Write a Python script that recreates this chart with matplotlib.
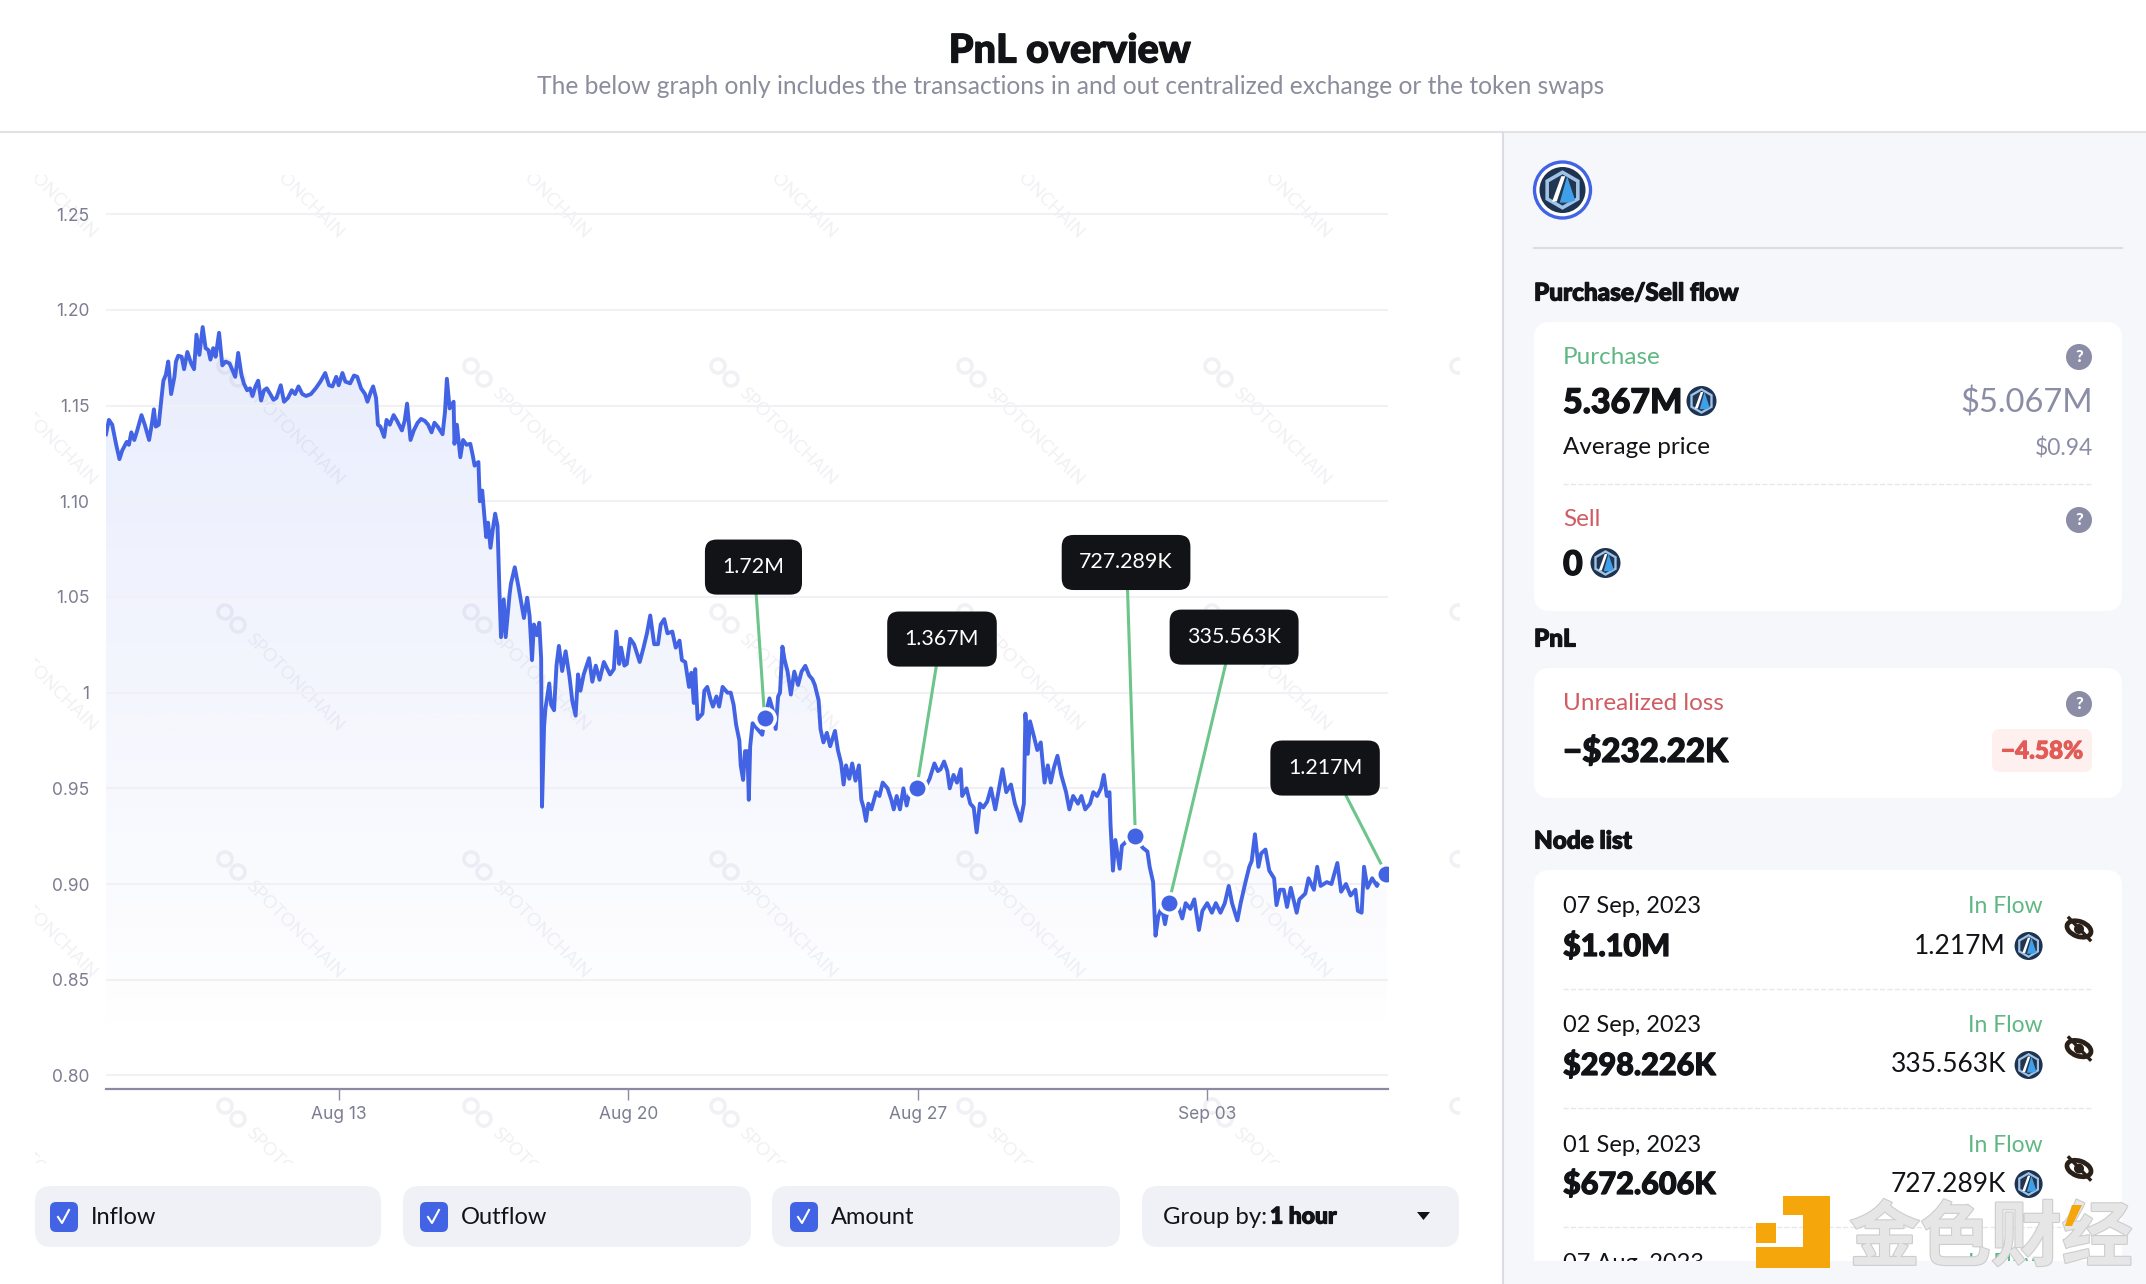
import matplotlib
matplotlib.use('Agg')
import matplotlib.pyplot as plt
import matplotlib.patheffects as pe
from matplotlib.patches import FancyBboxPatch, Circle, Polygon, Rectangle, RegularPolygon, Ellipse
import numpy as np

plt.rcParams['font.family'] = ['Lato', 'DejaVu Sans']

BLUE = '#4263e3'
GREEN = '#5fb783'
RED = '#cf5d62'
GREY = '#8b8ca6'
INK = '#121316'
HEAVY = [pe.withStroke(linewidth=0.9, foreground=INK)]  # lato black is thinner than the original font

def draw_card(x, y, w, h, r, color):
    card = FancyBboxPatch((x + r, y + r), w - 2 * r, h - 2 * r, boxstyle='round,pad=%f,rounding_size=%f' % (r, r),
                          facecolor=color, edgecolor='none', zorder=1)
    plt.gca().add_patch(card)
    return card

def draw_coin(x, y, r):
    ax = plt.gca()
    ax.add_patch(Circle((x, y), r, facecolor='#1d3350', edgecolor='none', zorder=3))
    ax.add_patch(RegularPolygon((x, y), 6, radius=0.86 * r, facecolor='#9fc3e6', edgecolor='none', zorder=3))
    ax.add_patch(RegularPolygon((x, y), 6, radius=0.68 * r, facecolor='#24364f', edgecolor='none', zorder=3))
    # two white slashes and the blue wedge
    ax.add_patch(Polygon([(x - 0.45 * r, y + 0.5 * r), (x - 0.05 * r, y - 0.6 * r), (x + 0.12 * r, y - 0.6 * r), (x - 0.25 * r, y + 0.5 * r)],
                         facecolor='white', edgecolor='none', zorder=4))
    ax.add_patch(Polygon([(x - 0.12 * r, y + 0.55 * r), (x + 0.2 * r, y - 0.6 * r), (x + 0.55 * r, y + 0.45 * r), (x + 0.3 * r, y + 0.55 * r)],
                         facecolor='#3f9fe8', edgecolor='none', zorder=4))

def draw_help(x, y):
    plt.gca().add_patch(Circle((x, y), 13, facecolor=GREY, edgecolor='none', zorder=3))
    plt.text(x, y, '?', color='white', fontsize=12, fontweight='black', ha='center', va='center', zorder=4)

def draw_eye(x, y):
    ax = plt.gca()
    ax.add_patch(Ellipse((x, y), 25, 15, angle=20, facecolor='none', edgecolor='#2a2018', linewidth=3.4, zorder=3))
    ax.add_patch(Circle((x, y), 5, facecolor='#2a2018', edgecolor='none', zorder=3))
    plt.plot([x - 10, x + 11], [y - 11, y + 11], color='#2a2018', linewidth=2.4, zorder=4)

def draw_check(x, y, label):
    draw_card(x - 12, y - 15, 22 + 6, 30, 6, BLUE)
    plt.plot([x - 4, x, x + 7], [y, y + 6, y - 7], color='white', linewidth=1.5, zorder=4)
    plt.text(x + 29, y + 1, label, color=INK, fontsize=17, ha='left', va='center', zorder=4)

# price, typed in by hand. hours after 07 Aug 09:00, then the price

price_data = [(0, 1.135), (1.7, 1.1425), (3.6, 1.140), (5.8, 1.130), (7.8, 1.122), (9.4, 1.1265), (12, 1.131), (13.3, 1.1295),
              (14.7, 1.136), (16.4, 1.132), (17.8, 1.136), (20.6, 1.145), (22.5, 1.140), (25, 1.132), (26.7, 1.141), (27.8, 1.148),
              (28.9, 1.139), (30.6, 1.140), (32.2, 1.154), (33.3, 1.163), (34.7, 1.166), (36.1, 1.173), (37.8, 1.156), (39.7, 1.165),
              (40.6, 1.173), (41.9, 1.176), (43.9, 1.1755), (45.3, 1.169), (47.2, 1.178), (49.4, 1.172), (51.1, 1.169), (52.5, 1.187),
              (54.2, 1.1765), (56.1, 1.191), (57.8, 1.180), (59.4, 1.179), (60.6, 1.174), (62.2, 1.180), (63.6, 1.1755), (65.6, 1.188),
              (67.5, 1.171), (69.4, 1.173), (71.7, 1.172), (73.6, 1.168), (75, 1.165), (76.7, 1.1775), (78.6, 1.166), (80, 1.1615),
              (81.9, 1.158), (83.6, 1.159), (85, 1.155), (86.7, 1.160), (88.3, 1.163), (90, 1.1526), (91.7, 1.158), (93.3, 1.159),
              (95.3, 1.156), (97.2, 1.153), (98.9, 1.154), (101.4, 1.1606), (103.3, 1.152), (105.6, 1.154), (107.8, 1.158), (109.7, 1.156),
              (111.7, 1.160), (113.9, 1.156), (116.1, 1.155), (118.9, 1.156), (121.7, 1.159), (124.4, 1.1625), (127.2, 1.167), (129.4, 1.1606),
              (131.4, 1.160), (133.6, 1.165), (135, 1.1606), (137.2, 1.167), (138.9, 1.1625), (141.7, 1.1616), (143.9, 1.1657), (145.8, 1.165),
              (148, 1.159), (150.3, 1.156), (151.7, 1.152), (153.6, 1.157), (155, 1.160), (156.7, 1.154), (157.8, 1.140), (159.2, 1.139),
              (161.4, 1.1336), (162.8, 1.1425), (164.7, 1.140), (166.9, 1.145), (168.9, 1.142), (171.7, 1.137), (173.3, 1.142), (174.7, 1.151),
              (176.7, 1.132), (178.6, 1.137), (180.8, 1.141), (182.8, 1.143), (185, 1.142), (186.9, 1.140), (188.9, 1.136), (190.6, 1.141),
              (192.5, 1.139), (195.3, 1.135), (196.7, 1.1466), (197.8, 1.164), (199.4, 1.1485), (201.7, 1.152), (202.2, 1.130), (203.6, 1.140),
              (205.6, 1.123), (207.2, 1.132), (209.2, 1.1295), (211.4, 1.130), (212.8, 1.124), (213.9, 1.1186), (216.1, 1.1205), (216.9, 1.100),
              (218.3, 1.1056), (220.6, 1.0813), (221.7, 1.0888), (223.1, 1.0757), (224.4, 1.085), (225.8, 1.0935), (227.2, 1.087), (228.3, 1.053),
              (229.2, 1.029), (230.8, 1.0487), (231.9, 1.029), (234.2, 1.0515), (235, 1.057), (237.2, 1.0655), (239.4, 1.055), (242.5, 1.039),
              (244.4, 1.0496), (245.8, 1.040), (247.2, 1.017), (248.3, 1.0356), (250, 1.030), (251.4, 1.0365), (252.5, 1.018), (253, 0.9404),
              (254.2, 0.9824), (255, 0.9917), (257.2, 1.0048), (258.3, 0.9936), (260, 0.9908), (261.4, 1.0141), (262.8, 1.0244), (264.7, 1.0113),
              (266.7, 1.0216), (268.9, 1.0086), (270.6, 0.9955), (272.5, 0.988), (273.9, 1.0095), (275.3, 1.001), (277.2, 1.0095), (280.3, 1.018),
              (282.2, 1.0057), (284.2, 1.0141), (286.4, 1.0067), (288.9, 1.016), (292.5, 1.0095), (294.7, 1.0123), (296.1, 1.0319), (297.8, 1.015),
              (298.9, 1.0235), (300.8, 1.0141), (302.2, 1.015), (304.2, 1.0281), (306.4, 1.0253), (309.7, 1.016), (311.9, 1.0235), (313.9, 1.031),
              (315.8, 1.0403), (318.1, 1.0253), (320.3, 1.0253), (321.9, 1.0356), (323.9, 1.0384), (325.8, 1.031), (328.6, 1.0319), (330.6, 1.0235),
              (332.8, 1.0272), (334.2, 1.017), (336.1, 1.016), (338.3, 1.003), (339.7, 1.0104), (341.1, 0.9946), (341.9, 1.0123), (343.3, 0.9862),
              (346.1, 0.989), (347.2, 1.001), (348.9, 1.003), (350.8, 0.9964), (352.2, 0.9927), (354.2, 0.998), (355.8, 0.9927), (357.8, 1.003),
              (360.6, 1.000), (362.5, 1.000), (364.2, 0.9936), (365.6, 0.9834), (367.5, 0.975), (368.3, 0.962), (369.7, 0.9544), (370.8, 0.9694),
              (372.2, 0.9694), (373, 0.944), (373.8, 0.972), (375.2, 0.984), (378, 0.981), (380.8, 0.978), (382.2, 0.9866), (385, 0.997),
              (386.9, 0.991), (388.6, 0.981), (390, 0.998), (391.1, 1.000), (392.5, 1.024), (393.8, 1.017), (395.5, 1.011), (397.4, 0.999),
              (399.4, 1.011), (401.6, 1.004), (403.6, 1.011), (405.8, 1.014), (408, 1.009), (409.9, 1.007), (411.3, 1.004), (413.5, 0.996),
              (414.6, 0.981), (416.3, 0.974), (418.3, 0.979), (420.2, 0.972), (423, 0.980), (424.7, 0.970), (426.6, 0.963), (428, 0.952),
              (429.4, 0.962), (431.3, 0.955), (433, 0.963), (434.9, 0.954), (436.9, 0.962), (438.3, 0.944), (439.6, 0.940), (441, 0.933),
              (442.4, 0.942), (444.1, 0.939), (446.9, 0.948), (448.8, 0.946), (450.7, 0.953), (453.5, 0.950), (455.7, 0.944), (457.1, 0.939),
              (458.8, 0.946), (460.7, 0.939), (462.7, 0.950), (464.6, 0.941), (466.8, 0.950), (470.4, 0.950), (475.2, 0.950), (477.9, 0.955),
              (480.7, 0.963), (482.7, 0.959), (484.3, 0.960), (486.3, 0.964), (488.2, 0.959), (489.6, 0.950), (491.8, 0.957), (493.8, 0.953),
              (496, 0.960), (496.8, 0.946), (499.3, 0.950), (501.5, 0.942), (503.5, 0.940), (505.2, 0.927), (507.1, 0.942), (509, 0.940),
              (511.3, 0.943), (513.5, 0.950), (516, 0.939), (518.2, 0.950), (520.2, 0.960), (522.4, 0.948), (525.1, 0.952), (527.4, 0.942),
              (529.3, 0.937), (530.7, 0.933), (532.6, 0.942), (533.5, 0.989), (534.9, 0.968), (536.2, 0.985), (538.2, 0.978), (540.4, 0.970),
              (542.4, 0.974), (544.6, 0.953), (546.5, 0.962), (548.2, 0.953), (550.1, 0.961), (552.1, 0.967), (554.3, 0.957), (557.1, 0.948),
              (559, 0.939), (561.2, 0.946), (564, 0.942), (566, 0.946), (568.2, 0.939), (571, 0.942), (572.9, 0.948), (575.1, 0.946),
              (577.3, 0.950), (579, 0.957), (580.7, 0.946), (582.3, 0.948), (582.9, 0.931), (584.3, 0.907), (585.7, 0.923), (588.2, 0.908),
              (589.5, 0.920), (591.8, 0.922), (594.5, 0.925), (597.3, 0.925), (601.5, 0.919), (604.3, 0.917), (605.6, 0.909), (607.6, 0.901),
              (609, 0.873), (610.6, 0.883), (612.6, 0.888), (614.5, 0.879), (616.7, 0.890), (620.9, 0.892), (624.5, 0.882), (626.5, 0.890),
              (629.2, 0.887), (631.5, 0.892), (634.2, 0.876), (636.2, 0.886), (639, 0.890), (641.7, 0.885), (644, 0.890), (646.7, 0.885),
              (649.2, 0.890), (651.5, 0.899), (653.4, 0.890), (656.5, 0.881), (658.4, 0.890), (661.2, 0.901), (663.4, 0.909), (664.8, 0.912),
              (666.7, 0.926), (668.7, 0.909), (670.3, 0.916), (672.8, 0.918), (675, 0.907), (677.8, 0.903), (679.2, 0.889), (681.2, 0.897),
              (683.4, 0.897), (685.3, 0.888), (687.5, 0.898), (690.9, 0.885), (692.5, 0.892), (695.9, 0.895), (697.8, 0.903), (700.9, 0.897),
              (702.8, 0.909), (704.8, 0.899), (708.4, 0.901), (711.1, 0.900), (714.5, 0.911), (716.7, 0.896), (719.5, 0.900), (722.2, 0.894),
              (725, 0.897), (726.4, 0.886), (728.6, 0.885), (730, 0.909), (732, 0.898), (734.7, 0.903), (737.5, 0.899), (740.3, 0.905), (743, 0.905)]
hours = np.array([p[0] for p in price_data])
prices = np.array([p[1] for p in price_data])

# flows: label, hour, price, hour of box, price of box, where the stem leaves the box
flows = [('1.72M', 382.2, 0.9866, 375.7, 1.0656, 0.525),
         ('1.367M', 470.4, 0.950, 485.1, 1.028, 0.46),
         ('727.289K', 597.3, 0.925, 591.9, 1.068, 0.51),
         ('335.563K', 616.7, 0.890, 654.6, 1.029, 0.453),
         ('1.217M', 743, 0.905, 707.4, 0.9606, 0.66)]

plt.figure(figsize=(21.46, 12.84), dpi=100, facecolor='white')

# page behind the chart, drawn in pixels of the page

plt.axes([0, 0, 1, 1])
plt.xlim(0, 2146)
plt.ylim(1284, 0)
plt.axis('off')
ax_page = plt.gca()

# watermark
mark_box = Rectangle((35, 175), 1425, 988, transform=ax_page.transData)
for mark_x in [-22, 225, 471, 718, 965, 1212, 1458]:
    for mark_y in [119, 366, 612, 859, 1106]:
        wm = plt.text(mark_x + 24, mark_y + 24, 'SPOTONCHAIN', color='#f1f1f5', fontsize=13, rotation=-45,
                      rotation_mode='anchor', ha='left', va='center', zorder=0, clip_on=True)
        wm.set_clip_path(mark_box)
        for off in [0, 13]:
            dot = Circle((mark_x + off, mark_y + off), 7, facecolor='none', edgecolor='#f1f1f5', linewidth=2.6, zorder=0)
            ax_page.add_patch(dot)
            dot.set_clip_path(mark_box)

# header
plt.plot([0, 2146], [132, 132], color='#e2e2e6', linewidth=1.5, zorder=2)
plt.text(1070, 51, 'PnL overview', color=INK, fontsize=28.5, fontweight='black', ha='center', va='center', path_effects=HEAVY)
plt.text(1071, 87, 'The below graph only includes the transactions in and out centralized exchange or the token swaps',
         color='#8c8d9c', fontsize=17.7, ha='center', va='center')

# right panel
ax_page.add_patch(Rectangle((1503, 133), 643, 1151, facecolor='#f6f7fb', edgecolor='none', zorder=0.5))
plt.plot([1503, 1503], [133, 1284], color='#dcdce2', linewidth=1.5, zorder=2)
ax_page.add_patch(Circle((1562.5, 190), 28, facecolor='white', edgecolor=BLUE, linewidth=2.4, zorder=2))
draw_coin(1562.5, 190, 23)
plt.plot([1534, 2122], [248, 248], color='#dcdce2', linewidth=1.5, zorder=2)

plt.text(1534, 293, 'Purchase/Sell flow', color=INK, fontsize=17.5, fontweight='black', va='center', path_effects=HEAVY)
draw_card(1534, 322, 588, 289, 16, 'white')
plt.text(1563, 358, 'Purchase', color=GREEN, fontsize=17.5, va='center', zorder=4)
draw_help(2079, 357)
plt.text(1563, 403, '5.367M', color=INK, fontsize=24.5, fontweight='black', va='center', zorder=4, path_effects=HEAVY)
draw_coin(1701.5, 401, 15)
plt.text(2093, 403, '$5.067M', color=GREY, fontsize=23.5, ha='right', va='center', zorder=4)
plt.text(1563, 448, 'Average price', color=INK, fontsize=17.5, va='center', zorder=4)
plt.text(2093, 448, '$0.94', color=GREY, fontsize=16.5, ha='right', va='center', zorder=4)
plt.plot([1563, 2092], [484, 484], color='#e8e8ec', linewidth=1, linestyle='--', zorder=2)
plt.text(1563, 520, 'Sell', color=RED, fontsize=17.5, va='center', zorder=4)
draw_help(2079, 520)
plt.text(1563, 565, '0', color=INK, fontsize=24.5, fontweight='black', va='center', zorder=4, path_effects=HEAVY)
draw_coin(1605.5, 563, 15)

plt.text(1534, 639, 'PnL', color=INK, fontsize=17.5, fontweight='black', va='center', path_effects=HEAVY)
draw_card(1534, 668, 588, 130, 16, 'white')
plt.text(1563, 704, 'Unrealized loss', color=RED, fontsize=17.5, va='center', zorder=4)
draw_help(2079, 704)
plt.text(1563, 752, '\u2212$232.22K', color=INK, fontsize=23.8, fontweight='black', va='center', zorder=4, path_effects=HEAVY)
draw_card(1992, 729, 100, 43, 8, '#fdf0ef')
plt.text(2042, 751, '\u22124.58%', color='#e25b56', fontsize=17.5, fontweight='black', ha='center', va='center', zorder=4,
         path_effects=[pe.withStroke(linewidth=0.7, foreground='#e25b56')])

plt.text(1534, 841, 'Node list', color=INK, fontsize=17.5, fontweight='black', va='center', path_effects=HEAVY)
draw_card(1534, 870, 588, 420, 16, 'white')
ax_page.add_patch(Rectangle((1503, 1261), 643, 23, facecolor='#f6f7fb', edgecolor='none', zorder=1.5))

# node list
nodes = [('07 Sep, 2023', '$1.10M', '1.217M', 904.6, 945, 929),
         ('02 Sep, 2023', '$298.226K', '335.563K', 1024.5, 1064, 1048.6),
         ('01 Sep, 2023', '$672.606K', '727.289K', 1144, 1183, 1168.5)]
for day, usd, amount, y_day, y_usd, y_eye in nodes:
    plt.text(1563, y_day + 1.5, day, color=INK, fontsize=17, va='center', zorder=4)
    plt.text(2043, y_day + 1.5, 'In Flow', color=GREEN, fontsize=16.5, ha='right', va='center', zorder=4)
    plt.text(1563, y_usd + 1.5, usd, color=INK, fontsize=22, fontweight='black', va='center', zorder=4, path_effects=HEAVY)
    plt.text(2006, y_usd + 1, amount, color=INK, fontsize=19, ha='right', va='center', zorder=4)
    draw_coin(2028.6, y_usd + 1, 14)
    draw_eye(2079, y_eye)
    plt.plot([1563, 2092], [y_usd + 44, y_usd + 44], color='#e8e8ec', linewidth=1, linestyle='--', zorder=2)
# the last row is cut by the card
row_box = Rectangle((1534, 870), 588, 391, transform=ax_page.transData)
cut = plt.text(1563, 1264, '07 Aug, 2023', color=INK, fontsize=17, va='center', zorder=4, clip_on=True)
cut.set_clip_path(row_box)
cut = plt.text(2043, 1264, 'In Flow', color=GREEN, fontsize=16.5, ha='right', va='center', zorder=4, clip_on=True)
cut.set_clip_path(row_box)

# site logo over the corner
ax_page.add_patch(Polygon([(1783, 1196), (1830, 1196), (1830, 1268), (1756, 1268), (1756, 1247), (1803, 1247), (1803, 1215), (1783, 1215)],
                          facecolor='#f5a60a', edgecolor='none', zorder=6))
ax_page.add_patch(Rectangle((1756, 1223), 20, 20, facecolor='#f5a60a', edgecolor='none', zorder=6))
plt.text(1991, 1239, '金色财经', color='#e6e6e6', fontsize=51, fontweight='bold', family=['Noto Sans CJK SC', 'DejaVu Sans'],
         ha='center', va='center', zorder=6, path_effects=[pe.withStroke(linewidth=1.6, foreground='#cdcdcd')])
ax_page.add_patch(Polygon([(2072, 1205), (2082, 1205), (2072, 1226), (2065, 1226)], facecolor='#f5a60a', edgecolor='none', zorder=7))

# buttons under the chart
for left, width in [(35, 346), (403, 348), (772, 348), (1142, 317)]:
    draw_card(left, 1186, width, 61, 16, '#f0f1f7')
draw_check(62, 1217, 'Inflow')
draw_check(432, 1217, 'Outflow')
draw_check(802, 1217, 'Amount')
plt.text(1163, 1217, 'Group by:', color=INK, fontsize=17.2, va='center', zorder=4)
plt.text(1270, 1217, '1 hour', color=INK, fontsize=16.5, fontweight='black', va='center', zorder=4, path_effects=HEAVY)
ax_page.add_patch(Polygon([(1417, 1212), (1430, 1212), (1423.5, 1220)], facecolor=INK, edgecolor='none', zorder=4))

# the chart itself

plt.axes([106 / 2146, 1 - 1089 / 1284, 1282 / 2146, 889 / 1284], facecolor='none')
ax = plt.gca()
plt.plot(hours, prices, color=BLUE, linewidth=2.8, solid_joinstyle='round', zorder=3)

# area under the line fades out to white
fade = np.zeros((256, 1, 4))
fade[:, :, 0] = 66 / 255
fade[:, :, 1] = 99 / 255
fade[:, :, 2] = 235 / 255
fade[:, :, 3] = np.linspace(0.12, 0, 256).reshape(256, 1)
area = plt.fill_between(hours, prices, 0.7929, facecolor='none', edgecolor='none')
img = plt.imshow(fade, extent=[0, 744, 0.815, 1.195], aspect='auto', zorder=1)
img.set_clip_path(area.get_paths()[0], transform=ax.transData)

plt.xlim(0, 743.9)
plt.ylim(0.7929, 1.2574)
plt.grid(axis='y', color='#f1f1f5', linewidth=1.5, zorder=0)
plt.yticks([0.80, 0.85, 0.90, 0.95, 1.0, 1.05, 1.10, 1.15, 1.20, 1.25],
           ['0.80', '0.85', '0.90', '0.95', '1', '1.05', '1.10', '1.15', '1.20', '1.25'],
           color='#7c7d90', family=['Inter', 'DejaVu Sans'], fontsize=12.5)
plt.xticks([135, 303, 471, 639], ['Aug 13', 'Aug 20', 'Aug 27', 'Sep 03'],
           color='#7c7d90', family=['Inter', 'DejaVu Sans'], fontsize=12.5)
plt.tick_params(axis='y', length=0, pad=12)
plt.tick_params(axis='x', length=8, width=1, color='#8a8ba0', pad=4)
for side in ['top', 'left', 'right']:
    ax.spines[side].set_visible(False)
ax.spines['bottom'].set_color('#8a8ba0')
ax.spines['bottom'].set_linewidth(1.6)

for name, h, price, box_h, box_price, rel in flows:
    plt.annotate(name, xy=(h, price), xytext=(box_h, box_price), color='white', fontsize=15.4, ha='center', va='center',
                 bbox=dict(boxstyle='round,pad=0.82,rounding_size=0.55', facecolor=INK, edgecolor='none'),
                 arrowprops=dict(arrowstyle='-', color='#6cc58a', linewidth=2.2, relpos=(rel, 0), shrinkA=0, shrinkB=0),
                 zorder=4)
    plt.plot([h], [price], marker='o', markersize=14, markerfacecolor=BLUE, markeredgecolor='white', markeredgewidth=2.5, zorder=5)

plt.savefig('out.png', dpi=100)
